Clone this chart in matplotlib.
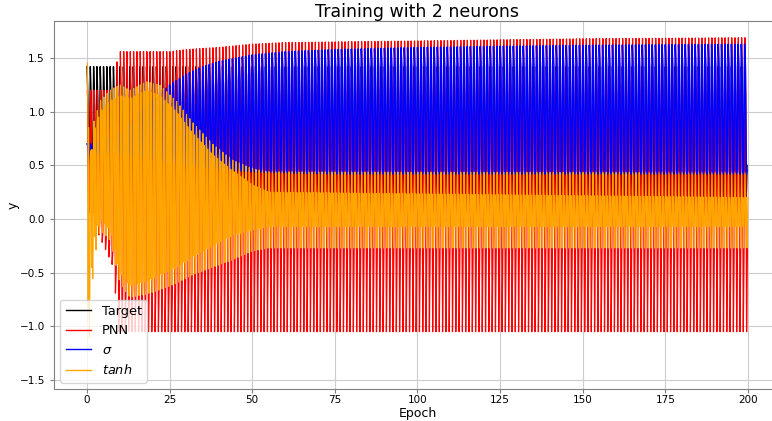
import numpy as np
import matplotlib.pyplot as plt

# envelope key points (epoch -> y)
# each series oscillates once per epoch: top spike, upper core, bottom spike, lower core
tgt_t = [0, 200]
tgt_top = [1.42, 1.42]
tgt_hi = [1.15, 1.15]
tgt_bot = [0.15, 0.15]
tgt_lo = [0.5, 0.5]

pnn_t = [0, 8, 9.5, 25, 30, 40, 50, 60, 100, 150, 200]
pnn_top = [1.2, 1.2, 1.56, 1.56, 1.58, 1.60, 1.63, 1.645, 1.66, 1.68, 1.69]
pnn_hi = [1.0, 1.0, 1.15, 1.15, 1.15, 1.15, 1.15, 1.15, 1.15, 1.15, 1.15]
pnn_bot = [0.1, -0.45, -1.05, -1.05, -1.05, -1.05, -1.05, -1.05, -1.05, -1.05, -1.05]
pnn_lo = [0.2, -0.3, -0.6, -0.62, -0.55, -0.4, -0.3, -0.27, -0.27, -0.27, -0.27]

sig_t = [0, 5, 10, 15, 20, 25, 30, 35, 40, 50, 60, 75, 100, 150, 200]
sig_top = [0.7, 0.72, 0.8, 0.95, 1.1, 1.25, 1.35, 1.42, 1.47, 1.53, 1.56, 1.58, 1.6, 1.62, 1.63]
sig_hi = [0.68, 0.7, 0.75, 0.85, 0.95, 1.05, 1.1, 1.2, 1.25, 1.35, 1.4, 1.42, 1.42, 1.42, 1.42]
sig_bot = [0.6, 0.6, 0.6, 0.58, 0.55, 0.52, 0.5, 0.48, 0.46, 0.44, 0.43, 0.42, 0.42, 0.42, 0.42]
sig_lo = [0.62, 0.62, 0.62, 0.6, 0.58, 0.56, 0.55, 0.52, 0.5, 0.48, 0.47, 0.46, 0.46, 0.46, 0.46]

tanh_t = [0, 1, 2, 4, 7, 10, 13, 18, 22, 27, 32, 38, 44, 50, 55, 200]
tanh_top = [1.57, 0.6, 0.9, 1.1, 1.2, 1.25, 1.2, 1.28, 1.25, 1.1, 0.9, 0.7, 0.55, 0.47, 0.44, 0.43]
tanh_hi = [1.2, 0.5, 0.8, 1.0, 1.1, 1.15, 1.12, 1.2, 1.15, 1.0, 0.8, 0.6, 0.45, 0.32, 0.25, 0.2]
tanh_bot = [-1.43, -1.0, -0.4, -0.1, -0.2, -0.6, -0.73, -0.7, -0.66, -0.6, -0.52, -0.45, -0.38, -0.3, -0.27, -0.27]
tanh_lo = [-1.0, -0.6, -0.2, 0.0, -0.1, -0.5, -0.62, -0.58, -0.52, -0.45, -0.35, -0.25, -0.15, -0.1, -0.07, -0.07]

epochs = np.arange(0, 200)
simple = [0, 1, 2, 3]                 # top, upper core, bottom spike, lower core
dense = [0, 1, 3, 1, 3, 2, 3, 1]      # extra passes through the core


def wave(kt, top, hi, bot, lo, shift, order):
    n = len(order)
    t = (epochs[:, None] + np.arange(n) / n + shift).ravel()
    t = t[t <= 200]
    levels = [top, hi, bot, lo]
    v = np.empty_like(t)
    for i, k in enumerate(order):
        v[i::n] = np.interp(t[i::n], kt, levels[k])
    return t, v


fig = plt.figure(figsize=(7.72, 4.21), dpi=100)
ax = fig.add_axes([0.0699, 0.0760, 0.9417, 0.874])

ax.plot(*wave(tgt_t, tgt_top, tgt_hi, tgt_bot, tgt_lo, 0.0, simple), color='black', lw=1.0, label='Target')
ax.plot(*wave(pnn_t, pnn_top, pnn_hi, pnn_bot, pnn_lo, 0.1, simple), color='red', lw=0.9, label='PNN')
ax.plot(*wave(sig_t, sig_top, sig_hi, sig_bot, sig_lo, 0.0, simple), color='blue', lw=1.1, label=r'$\sigma$')
ax.plot(*wave(tanh_t, tanh_top, tanh_hi, tanh_bot, tanh_lo, 0.12, dense), color='orange', lw=0.8, label=r'$tanh$')

ax.set_xlim(-10, 210)
ax.set_ylim(-1.584, 1.845)
ax.set_xticks([0, 25, 50, 75, 100, 125, 150, 175, 200])
ax.set_yticks([-1.5, -1.0, -0.5, 0.0, 0.5, 1.0, 1.5])
ax.grid(True, color='#cccccc', lw=0.8)
ax.set_axisbelow(True)
for s in ax.spines.values():
    s.set_color('#808080')
ax.tick_params(labelsize=7.5, length=3, color='#808080')
ax.tick_params(axis='x', pad=1.5)
ax.set_xlabel('Epoch', fontsize=9, labelpad=1)
ax.set_ylabel('y', fontsize=9, labelpad=0)
ax.set_title('Training with 2 neurons', fontsize=12.5, pad=3)
leg = ax.legend(loc='lower left', fontsize=9.3)
for h in leg.get_lines():
    h.set_linewidth(1.0)

fig.savefig('out.png', dpi=100)
